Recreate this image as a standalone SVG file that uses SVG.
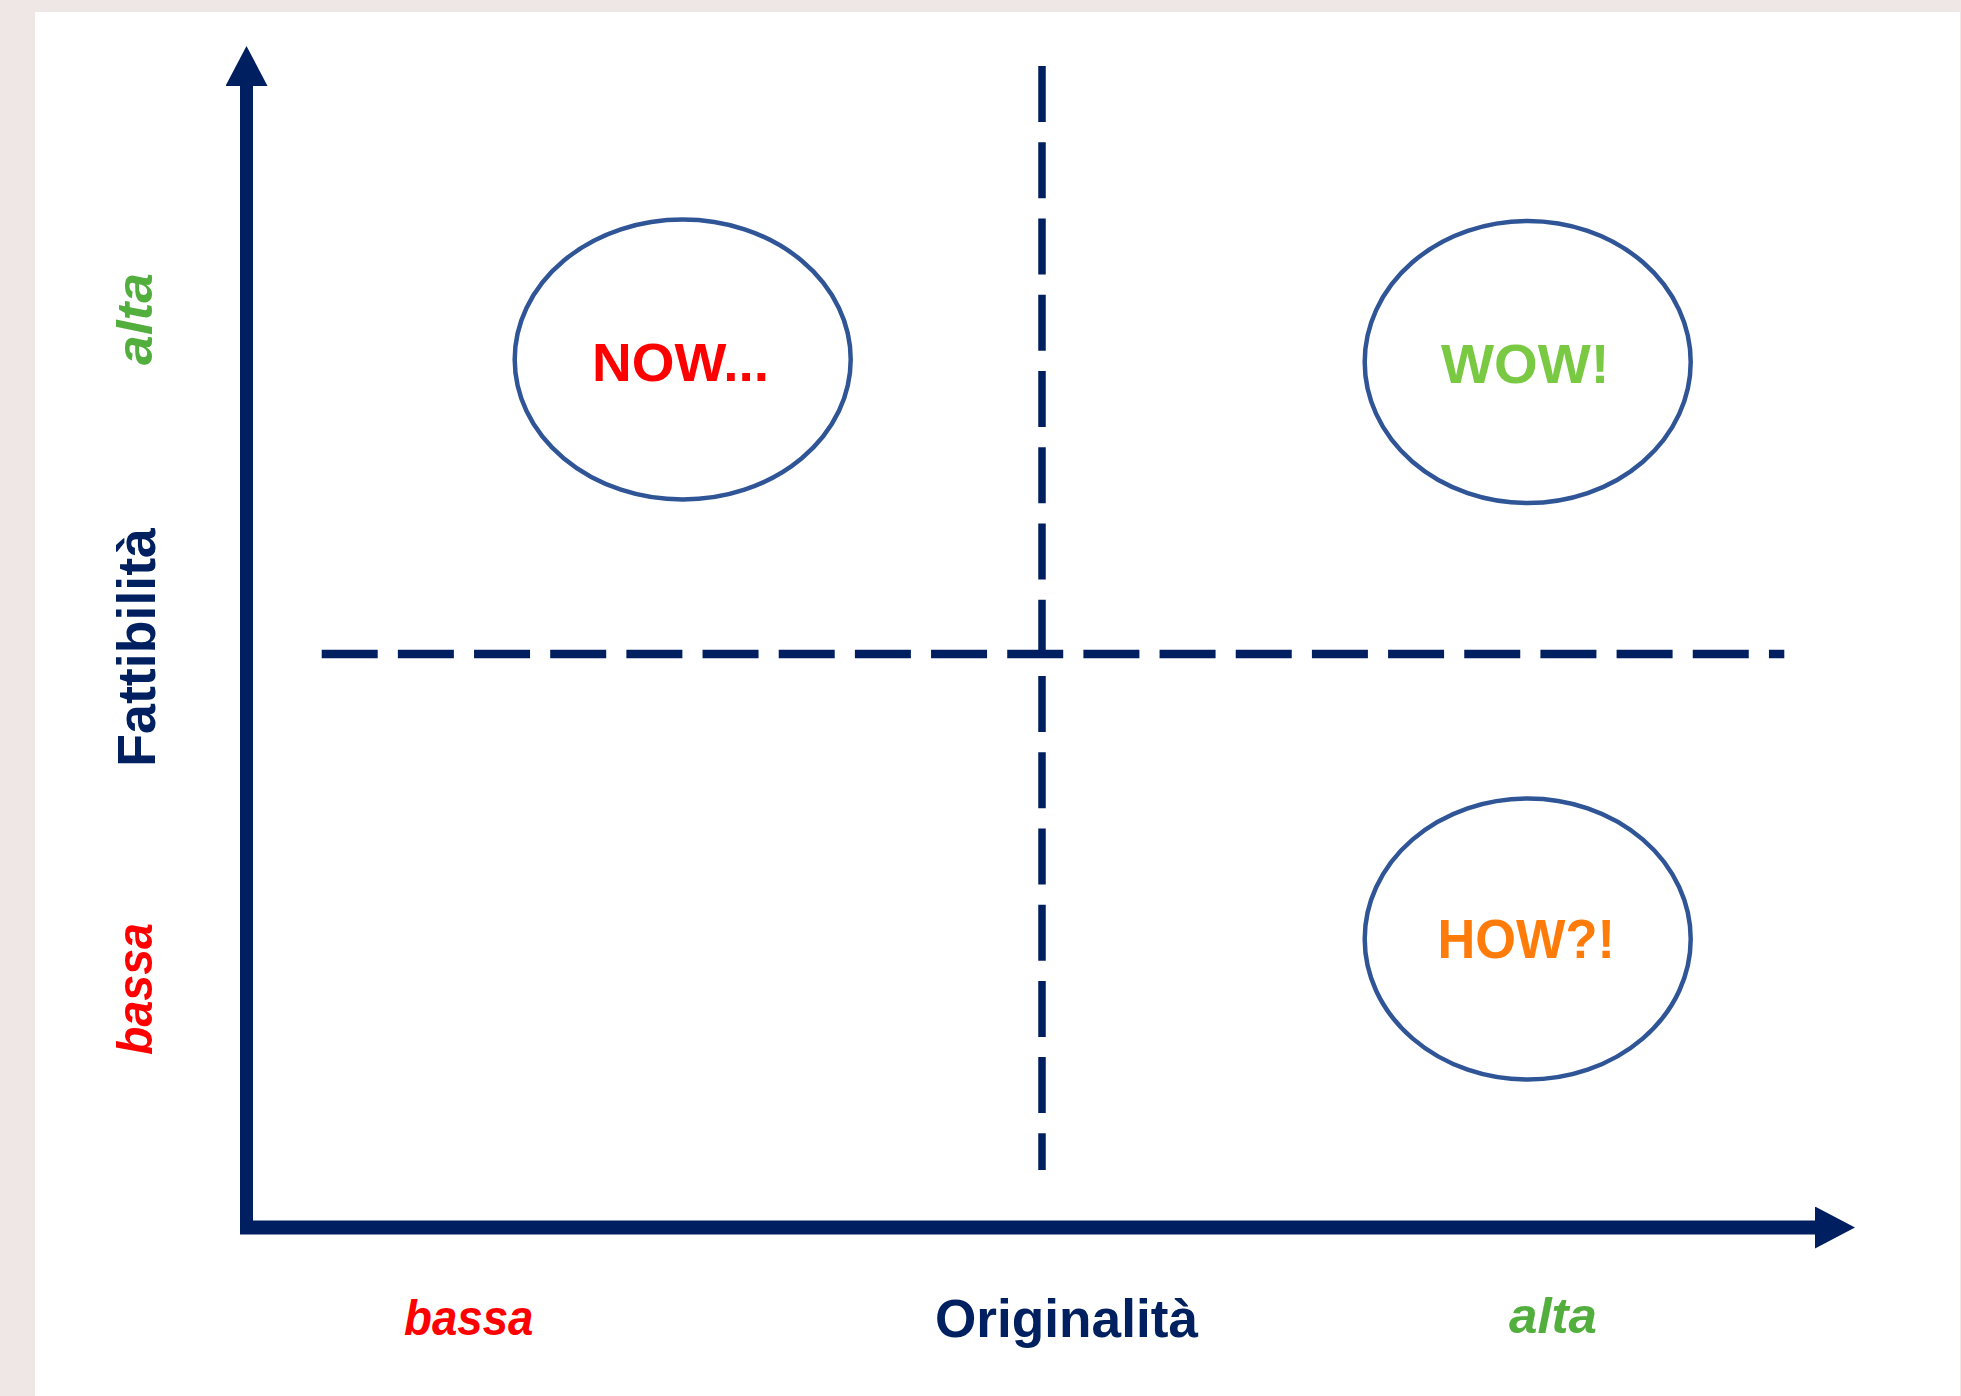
<svg xmlns="http://www.w3.org/2000/svg" width="1961" height="1396" viewBox="0 0 1961 1396">
  <style>
    .axis { stroke: #001F60; fill: none; }
    .dash { stroke: #001F60; fill: none; stroke-linecap: butt; }
    .node { fill: none; stroke: #2F5597; stroke-width: 4.5; }
    .bold { font-family: "Liberation Sans", Arial, sans-serif; font-weight: bold; }
    .bi { font-family: "Liberation Sans", Arial, sans-serif; font-weight: bold; font-style: italic; }
    .navy { fill: #002060; }
    .red { fill: #FF0000; }
    .green { fill: #52AE3D; }
  </style>
  <defs>
    <marker id="arrow" viewBox="0 0 40 42" refX="0" refY="21" markerWidth="40" markerHeight="42" markerUnits="userSpaceOnUse" orient="auto">
      <path d="M0,0 L40,21 L0,42 z" fill="#001F60"/>
    </marker>
  </defs>

  <rect x="0" y="0" width="1961" height="1396" fill="#EEE7E5"/>
  <rect x="35" y="12" width="1925" height="1384" fill="#FFFFFF"/>

  <g id="connectors">
    <line class="axis" x1="246.5" y1="1234" x2="246.5" y2="86" stroke-width="13" marker-end="url(#arrow)"/>
    <line class="axis" x1="240" y1="1227.5" x2="1815" y2="1227.5" stroke-width="14" marker-end="url(#arrow)"/>
    <line class="dash" x1="321.7" y1="654" x2="1784.3" y2="654" stroke-width="8.5" stroke-dasharray="56 20.17"/>
    <line class="dash" x1="1042" y1="66" x2="1042" y2="1170" stroke-width="7.5" stroke-dasharray="56 20.24"/>
  </g>

  <g id="node-now">
    <ellipse class="node" cx="682.7" cy="359.5" rx="168" ry="140"/>
    <text class="bold red" x="592" y="380.7" font-size="54" textLength="177" lengthAdjust="spacingAndGlyphs">NOW...</text>
  </g>

  <g id="node-wow">
    <ellipse class="node" cx="1527.7" cy="362" rx="163" ry="141"/>
    <text class="bold" x="1441" y="382.7" font-size="56" fill="#7AC943" textLength="168.5" lengthAdjust="spacingAndGlyphs">WOW!</text>
  </g>

  <g id="node-how">
    <ellipse class="node" cx="1527.7" cy="939" rx="163" ry="140.5"/>
    <text class="bold" x="1437.5" y="957.7" font-size="56" fill="#FF7C0A" textLength="177.5" lengthAdjust="spacingAndGlyphs">HOW?!</text>
  </g>

  <g id="axis-labels">
    <text class="bold navy" x="935" y="1337.3" font-size="54" textLength="263" lengthAdjust="spacingAndGlyphs">Originalità</text>
    <text class="bi red" x="404" y="1335" font-size="50" textLength="129.5" lengthAdjust="spacingAndGlyphs">bassa</text>
    <text class="bi green" x="1509" y="1333" font-size="50" textLength="88" lengthAdjust="spacingAndGlyphs">alta</text>
    <text class="bold navy" transform="translate(154.5,766.7) rotate(-90)" x="0" y="0" font-size="54" textLength="238.7" lengthAdjust="spacingAndGlyphs">Fattibilità</text>
    <text class="bi red" transform="translate(152,1055) rotate(-90)" x="0" y="0" font-size="50" textLength="132" lengthAdjust="spacingAndGlyphs">bassa</text>
    <text class="bi green" transform="translate(152,365) rotate(-90)" x="0" y="0" font-size="50" textLength="92" lengthAdjust="spacingAndGlyphs">alta</text>
  </g>
</svg>
